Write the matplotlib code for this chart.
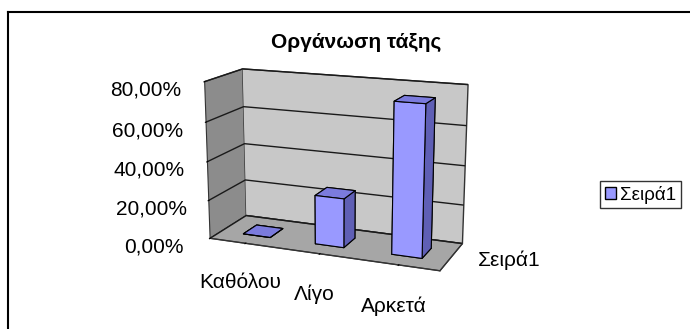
import numpy as np
import matplotlib.pyplot as plt
from matplotlib.patches import Patch
from matplotlib.lines import Line2D
from matplotlib.ticker import FuncFormatter

plt.rcParams['font.family'] = ['Liberation Sans', 'DejaVu Sans']

categories = ['Καθόλου', 'Λίγο', 'Αρκετά']
series_name = 'Σειρά1'
values = [0.0, 0.25, 0.75]
z_ticks = [0.0, 0.2, 0.4, 0.6, 0.8]
title = 'Οργάνωση τάξης'

bar_color = '#9999FF'
# face order used by bar3d: bottom, top, front, back, left, right
face_colors = ['#9999FF', '#7B7BDD', '#9999FF', '#9999FF', '#6A6AC8', '#5F5FB5']

fig = plt.figure(figsize=(6.9, 3.29), dpi=100)
ax = fig.add_axes([0.17, 0.03, 0.62, 0.92], projection='3d', proj_type='persp', focal_length=0.6)

x = np.arange(len(categories))
bw, bd = 0.38, 0.38
ax.bar3d(x - bw / 2, np.full(len(x), 0.5 - bd / 2), np.zeros(len(x)),
         bw, bd, values, color=face_colors * len(x), edgecolor='black', linewidth=0.8, shade=False)

ax.set_xlim(-0.5, len(categories) - 0.5)
ax.set_ylim(0, 1)
ax.set_zlim(0, 0.8)
ax.set_box_aspect((3, 1.0, 2.0), zoom=0.98)
ax.view_init(elev=15, azim=-68)

# walls and floor
ax.xaxis.set_pane_color('#8c8c8c')
ax.yaxis.set_pane_color('#c8c8c8')
ax.zaxis.set_pane_color('#a6a6a6')
for a in (ax.xaxis, ax.yaxis, ax.zaxis):
    a.pane.set_edgecolor('#333333')
    a.line.set_color('#333333')
    a._axinfo['grid']['color'] = (0, 0, 0, 0)
    a.label.set_visible(False)
    a.offsetText.set_visible(False)
ax.zaxis._axinfo['grid']['color'] = (0.1, 0.1, 0.1, 1)
ax.zaxis._axinfo['grid']['linewidth'] = 1.0
ax.zaxis.set_ticks_position('lower')
ax.zaxis.set_label_position('lower')

ax.set_xticks(x)
ax.set_xticklabels(categories, fontsize=15)
ax.set_yticks([])
ax.set_zticks(z_ticks)
ax.zaxis.set_major_formatter(FuncFormatter(lambda v, p: f'{v * 100:.2f}%'.replace('.', ',')))
for lab in ax.get_zticklabels():
    lab.set_fontsize(15)
ax.xaxis.set_tick_params(pad=11)
ax.zaxis.set_tick_params(pad=18)

# series name sits just outside the right edge of the floor
ax.text(len(categories) - 0.5 + 0.32, 0.5, 0, series_name, fontsize=15, ha='left', va='center')

fig.text(356 / 690, 1 - 42 / 329, title, ha='center', va='center', fontsize=15, fontweight='bold')

leg = fig.legend(handles=[Patch(facecolor=bar_color, edgecolor='black')], labels=[series_name],
                 loc='upper left', bbox_to_anchor=(600 / 690, 1 - 181 / 329), fontsize=13.5,
                 frameon=True, fancybox=False, edgecolor='black', handlelength=0.6,
                 handleheight=0.6, handletextpad=0.2, borderpad=0.25, borderaxespad=0)
leg.get_frame().set_linewidth(1.0)

# chart border (runs off the right and bottom edge)
fig.add_artist(Line2D([8 / 690, 8 / 690], [1 - 12 / 329, 0], color='black', lw=1.5))
fig.add_artist(Line2D([8 / 690, 1], [1 - 12 / 329, 1 - 12 / 329], color='black', lw=1.5))

fig.savefig('out.png', dpi=100)
